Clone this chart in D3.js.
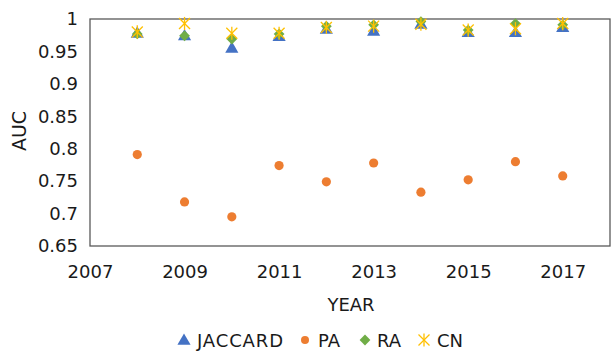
<!DOCTYPE html>
<html><head><meta charset="utf-8">
<script src="https://cdn.jsdelivr.net/npm/d3@7"></script>
<style>body{margin:0;background:#fff}text{font-family:"DejaVu Sans",sans-serif}</style>
</head><body><svg id="c" width="612" height="352"></svg>
<script>
const years = [2008,2009,2010,2011,2012,2013,2014,2015,2016,2017];
const jaccard = [0.977,0.973,0.954,0.972,0.983,0.980,0.991,0.978,0.978,0.986];
const pa      = [0.791,0.718,0.695,0.774,0.749,0.778,0.733,0.752,0.780,0.758];
const ra      = [0.977,0.974,0.969,0.977,0.989,0.991,0.996,0.983,0.993,0.991];
const cn      = [0.980,0.993,0.978,0.978,0.987,0.989,0.992,0.983,0.985,0.993];
const xTicks = [2007,2009,2011,2013,2015,2017];
const yTicks = [0.65,0.7,0.75,0.8,0.85,0.9,0.95,1];
const seriesNames = ["JACCARD","PA","RA","CN"];
const colors = ["#4472C4","#ED7D31","#70AD47","#FFC000"];

const svg = d3.select("#c");
const L=90,R=610,T=19,B=246;
const FS=18, TXT="#1a1a1a";
const x = d3.scaleLinear().domain([2007,2018]).range([L,R]);
const y = d3.scaleLinear().domain([0.65,1]).range([B,T]);

svg.append("rect").attr("x",L).attr("y",T).attr("width",R-L).attr("height",B-T)
  .attr("fill","none").attr("stroke","#595959").attr("stroke-width",1.3);

const yAxis = svg.append("g").attr("transform",`translate(${L},0)`)
  .call(d3.axisLeft(y).tickValues(yTicks).tickSize(0).tickPadding(12).tickFormat(d=>String(+d.toFixed(2))));
yAxis.select(".domain").remove();
yAxis.selectAll("text").attr("font-size",FS).attr("fill",TXT).attr("font-family","DejaVu Sans");

const xAxis = svg.append("g").attr("transform",`translate(0,${B})`)
  .call(d3.axisBottom(x).tickValues(xTicks).tickSize(0).tickPadding(0).tickFormat(d3.format("d")));
xAxis.select(".domain").remove();
xAxis.selectAll("text").attr("font-size",FS).attr("fill",TXT).attr("font-family","DejaVu Sans")
  .attr("dy",null).attr("y",32);

svg.append("text").attr("x",351).attr("y",311).attr("text-anchor","middle")
  .attr("font-size",FS).attr("fill",TXT).text("YEAR");
svg.append("text").attr("transform","translate(26,131) rotate(-90)").attr("text-anchor","middle")
  .attr("font-size",FS+1).attr("fill",TXT).text("AUC");

const tri = d3.symbol().type(d3.symbolTriangle).size(75);
const dia = d3.symbol().type(d3.symbolSquare).size(58);
function star(g,cx,cy,r){
  const s = g.append("g").attr("transform",`translate(${cx},${cy})`).attr("stroke",colors[3]).attr("stroke-width",1.3);
  s.append("line").attr("x1",-r).attr("y1",-r).attr("x2",r).attr("y2",r);
  s.append("line").attr("x1",-r).attr("y1",r).attr("x2",r).attr("y2",-r);
  s.append("line").attr("x1",0).attr("y1",-r*1.2).attr("x2",0).attr("y2",r*1.2);
}

const g = svg.append("g");
g.selectAll(".j").data(years).join("path").attr("d",tri)
  .attr("transform",(d,i)=>`translate(${x(d)},${y(jaccard[i])})`).attr("fill",colors[0]);
g.selectAll(".p").data(years).join("circle").attr("cx",d=>x(d)).attr("cy",(d,i)=>y(pa[i])).attr("r",4.6).attr("fill",colors[1]);
g.selectAll(".r").data(years).join("path").attr("d",dia)
  .attr("transform",(d,i)=>`translate(${x(d)},${y(ra[i])}) rotate(45)`).attr("fill",colors[2]);
years.forEach((d,i)=>star(g,x(d),y(cn[i]),5.5));

// legend
const ly = 347;
const leg = svg.append("g");
leg.append("path").attr("d",tri).attr("transform",`translate(184,${ly-6})`).attr("fill",colors[0]);
leg.append("text").attr("x",197).attr("y",ly).attr("font-size",FS).attr("fill",TXT)
  .attr("textLength",86).text(seriesNames[0]);
leg.append("circle").attr("cx",305).attr("cy",ly-7).attr("r",4).attr("fill",colors[1]);
leg.append("text").attr("x",318).attr("y",ly).attr("font-size",FS).attr("fill",TXT).text(seriesNames[1]);
leg.append("path").attr("d",dia).attr("transform",`translate(365,${ly-7}) rotate(45)`).attr("fill",colors[2]);
leg.append("text").attr("x",377).attr("y",ly).attr("font-size",FS).attr("fill",TXT).text(seriesNames[2]);
star(leg,424,ly-7,5.5);
leg.append("text").attr("x",437).attr("y",ly).attr("font-size",FS).attr("fill",TXT).text(seriesNames[3]);
</script></body></html>
